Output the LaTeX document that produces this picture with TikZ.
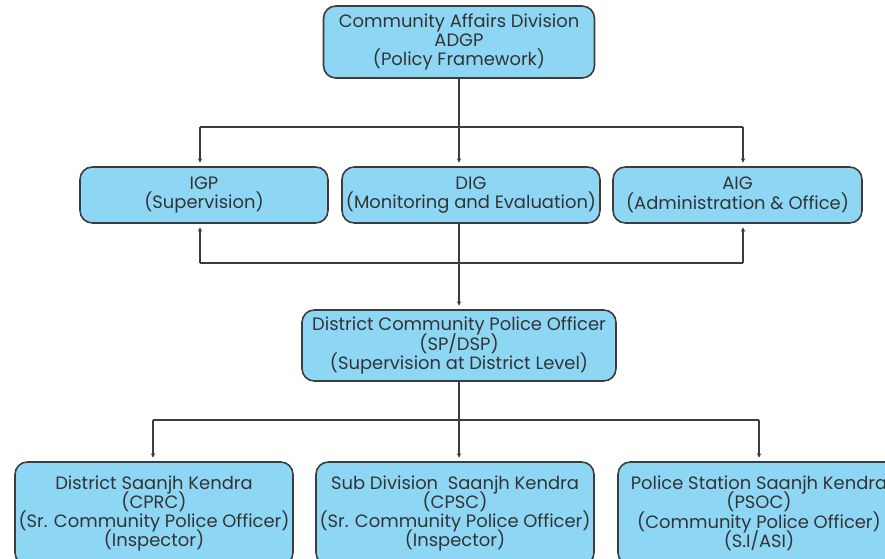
\documentclass[tikz,border=0pt]{standalone}
\usepackage{fontspec}
\setmainfont{Poppins}
\usepackage{tikz}
\usetikzlibrary{arrows.meta}
\definecolor{boxblue}{HTML}{8DD7F5}
\definecolor{linegray}{HTML}{3C3C3C}
\setlength{\lineskiplimit}{-20pt}

\begin{document}
\begin{tikzpicture}[x=0.02cm, y=-0.02cm,
            box/.style={draw=linegray, line width=0.9pt, fill=boxblue, rounded corners=7pt,
                        align=center, inner sep=0pt, font=\fontsize{10.2}{11}\selectfont, text=black!80},
            link/.style={draw=linegray, line width=0.9pt},
            arr/.style={link, -{Stealth[length=2.5pt,width=2.5pt]}, shorten >=2pt}]
            \clip (0,0) rectangle (885,558);
            
            \node[box, minimum width=5.42cm, minimum height=1.44cm] (adgp) at (459,42)
                {Community Affairs Division\\ADGP\\(Policy Framework)};
            \node[box, minimum width=4.96cm, minimum height=1.12cm] (igp) at (204,195)
                {IGP\\(Supervision)};
            \node[box, minimum width=5.16cm, minimum height=1.12cm] (dig) at (471,195)
                {DIG\\(Monitoring and Evaluation)};
            \node[box, minimum width=4.98cm, minimum height=1.12cm] (aig) at (737.5,195)
                {AIG\\(Administration \& Office)};
            \node[box, minimum width=6.28cm, minimum height=1.42cm] (dcpo) at (459,345.5)
                {District Community Police Officer\\(SP/DSP)\\(Supervision at District Level)};
            \node[box, minimum width=5.56cm, minimum height=2.06cm] (cprc) at (154,513.5)
                {District Saanjh Kendra\\(CPRC)\\(Sr. Community Police Officer)\\(Inspector)};
            \node[box, minimum width=5.56cm, minimum height=2.06cm] (cpsc) at (455,513.5)
                {Sub Division\ \ Saanjh Kendra\\(CPSC)\\(Sr. Community Police Officer)\\(Inspector)};
            \node[box, minimum width=5.64cm, minimum height=2.06cm] (psoc) at (759,513.5)
                {Police Station Saanjh Kendra\\(PSOC)\\(Community Police Officer)\\(S.I/ASI)};
            
            \coordinate (t1) at (200,127);
            \coordinate (t2) at (459,127);
            \coordinate (t3) at (743,127);
            \coordinate (b1) at (200,263);
            \coordinate (b3) at (743,263);
            \coordinate (d1) at (153,420);
            \coordinate (d2) at (459,420);
            \coordinate (d3) at (759,420);
            
            \draw[link] (adgp.south) -- (t2);
            \draw[link] (t1) -- (t3);
            \draw[arr] (t1) -- (t1 |- igp.north);
            \draw[arr] (t2) -- (t2 |- dig.north);
            \draw[arr] (t3) -- (t3 |- aig.north);
            
            \draw[arr] (dig.south -| dcpo.north) -- (dcpo.north);
            \draw[link] (b1) -- (b3);
            \draw[arr] (b1) -- (b1 |- igp.south);
            \draw[arr] (b3) -- (b3 |- aig.south);
            
            \draw[link] (dcpo.south) -- (d2);
            \draw[link] (d1) -- (d3);
            \draw[arr] (d1) -- (d1 |- cprc.north);
            \draw[arr] (d2) -- (d2 |- cpsc.north);
            \draw[arr] (d3) -- (d3 |- psoc.north);
            
            \end{tikzpicture}
\end{document}
